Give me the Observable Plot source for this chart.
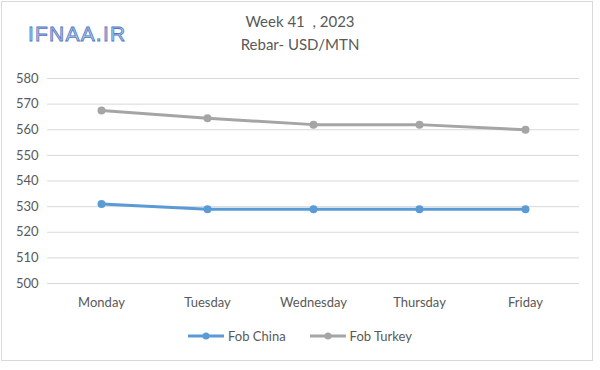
<!DOCTYPE html>
<html>
<head>
<meta charset="utf-8">
<script src="https://cdn.jsdelivr.net/npm/d3@7"></script>
<script src="https://cdn.jsdelivr.net/npm/@observablehq/plot@0.6"></script>
<style>
  html, body { margin: 0; padding: 0; background: #fff; }
  #wrap { position: relative; width: 600px; height: 370px; font-family: Lato, "Open Sans", sans-serif; }
  #frame { position: absolute; left: 1px; top: 1px; width: 592px; height: 360px; border: 1px solid #d9d9d9; box-sizing: border-box; }
  #logo { position: absolute; left: 28px; top: 22px; font-size: 21px; font-weight: 400; color: #b3cbee;
          -webkit-text-stroke: 0.8px #4f78c0; letter-spacing: 1.2px; font-family: "Liberation Sans", Arial, sans-serif; }
  .title { position: absolute; left: 0; width: 600px; text-align: center; color: #595959; font-size: 15px; }
  #legend { position: absolute; top: 328px; left: 0; width: 600px; display: flex; justify-content: center; gap: 24px; font-size: 13px; color: #595959; }
  .li { display: flex; align-items: center; gap: 4px; }
  svg.plot { position: absolute; left: 0; top: 0; }
</style>
</head>
<body>
<div id="wrap">
  <div id="frame"></div>
  <div id="logo">IFNAA.IR</div>
  <div class="title" style="top:12px">Week 41 &nbsp;, 2023</div>
  <div class="title" style="top:35px">Rebar- USD/MTN</div>
  <div id="legend"></div>
</div>
<script>
const days = ["Monday", "Tuesday", "Wednesday", "Thursday", "Friday"];
const fobChina = [531, 529, 529, 529, 529];
const fobTurkey = [567.5, 564.5, 562, 562, 560];
const seriesNames = ["Fob China", "Fob Turkey"];
const seriesColors = ["#5b9bd5", "#a5a5a5"];
const yTicks = [500, 510, 520, 530, 540, 550, 560, 570, 580];

const data = [];
days.forEach((d, i) => {
  data.push({day: d, value: fobChina[i], series: seriesNames[0]});
  data.push({day: d, value: fobTurkey[i], series: seriesNames[1]});
});

const chart = Plot.plot({
  width: 600,
  height: 370,
  marginTop: 78,
  marginBottom: 87,
  marginLeft: 47,
  marginRight: 21,
  style: {fontFamily: "Lato, 'Open Sans', sans-serif", fontSize: "13px", color: "#595959", background: "transparent"},
  x: {type: "point", domain: days, padding: 0.5, label: null},
  y: {domain: [500, 580], ticks: yTicks, label: null},
  color: {domain: seriesNames, range: seriesColors},
  marks: [
    Plot.gridY(yTicks, {stroke: "#d9d9d9", strokeOpacity: 1, strokeWidth: 1}),
    Plot.axisY({ticks: yTicks, tickSize: 0, tickPadding: 9, fill: "#595959"}),
    Plot.axisX({tickSize: 0, tickPadding: 14, fill: "#595959"}),
    Plot.line(data, {x: "day", y: "value", z: "series", stroke: "series", strokeWidth: 3}),
    Plot.dot(data, {x: "day", y: "value", fill: "series", r: 4})
  ]
});
document.getElementById("wrap").appendChild(chart);

const legend = document.getElementById("legend");
seriesNames.forEach((name, i) => {
  const item = document.createElement("div");
  item.className = "li";
  item.innerHTML = `<svg width="36" height="10"><line x1="0" y1="5" x2="36" y2="5" stroke="${seriesColors[i]}" stroke-width="3"/><circle cx="18" cy="5" r="3.5" fill="${seriesColors[i]}"/></svg><span>${name}</span>`;
  legend.appendChild(item);
});
</script>
</body>
</html>
